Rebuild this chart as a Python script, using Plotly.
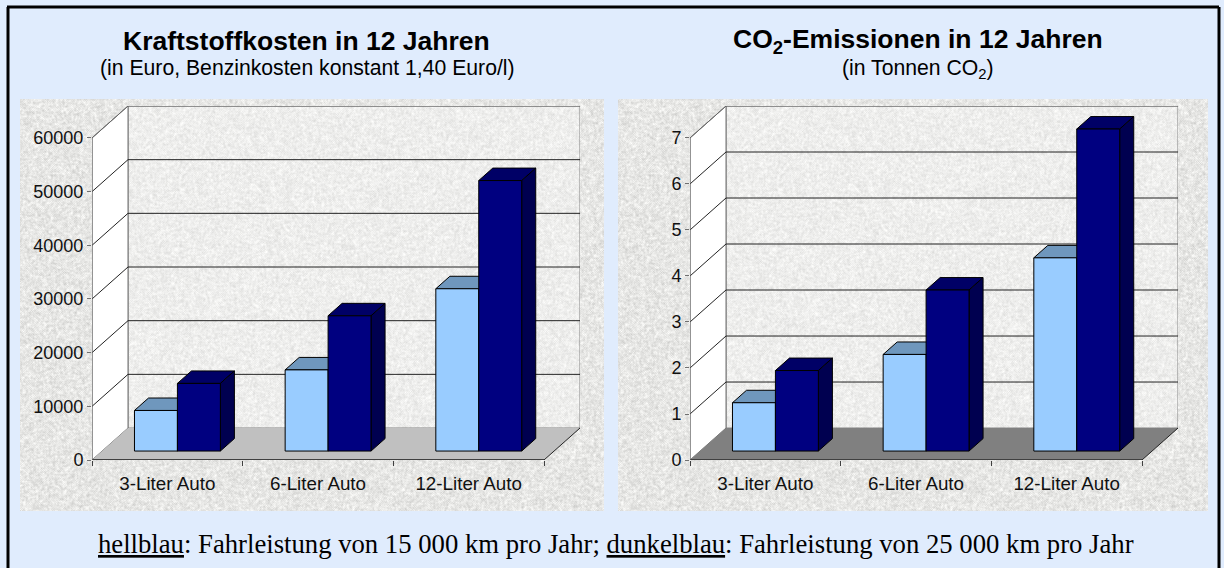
import base64, struct, zlib
import numpy as np
import plotly.graph_objects as go

categories = ["3-Liter Auto", "6-Liter Auto", "12-Liter Auto"]
cost_light = [7560, 15120, 30240]
cost_dark = [12600, 25200, 50400]
co2_light = [1.05, 2.1, 4.2]
co2_dark = [1.75, 3.5, 7.0]
cost_ticks = [0, 10000, 20000, 30000, 40000, 50000, 60000]
co2_ticks = [0, 1, 2, 3, 4, 5, 6, 7]

W, H = 1224, 568


def texture(w, h):
    yy, xx = np.mgrid[0:h, 0:w]
    n = np.sin(xx * 12.9898 + yy * 78.233) * 43758.5453
    n = n - np.floor(n)
    s = (n + np.roll(n, 1, 0) + np.roll(n, 1, 1) + np.roll(n, -1, 0) + np.roll(n, -1, 1)) / 5
    v = np.clip(231 + (s - 0.5) * 60, 0, 255)
    rgb = np.stack([v, v, v - 2], axis=-1).astype(np.uint8)
    raw = b"".join(b"\x00" + rgb[i].tobytes() for i in range(h))

    def chunk(t, d):
        return struct.pack(">I", len(d)) + t + d + struct.pack(">I", zlib.crc32(t + d) & 0xffffffff)

    png = b"\x89PNG\r\n\x1a\n" + chunk(b"IHDR", struct.pack(">IIBBBBB", w, h, 8, 2, 0, 0, 0)) \
        + chunk(b"IDAT", zlib.compress(raw, 9)) + chunk(b"IEND", b"")
    return "data:image/png;base64," + base64.b64encode(png).decode()


fig = go.Figure()

DX = 0.239            # depth in category units
DYF = 0.0993          # depth as a fraction of the axis top value
D0, D1 = 0.28, 0.67   # bar depth span
BW = 0.285            # bar width


def add_poly(xs, ys, axis, fill, line="rgba(0,0,0,0)", lw=1):
    fig.add_trace(go.Scatter(x=xs, y=ys, mode="lines", fill="toself", fillcolor=fill,
                             line=dict(color=line, width=lw), hoverinfo="skip", showlegend=False,
                             cliponaxis=False, xaxis="x" + axis, yaxis="y" + axis))


def add_line(xs, ys, axis, color, lw=1):
    fig.add_trace(go.Scatter(x=xs, y=ys, mode="lines", line=dict(color=color, width=lw),
                             hoverinfo="skip", showlegend=False, cliponaxis=False,
                             xaxis="x" + axis, yaxis="y" + axis))


def panel(axis, light, dark, ticks, floor, left_px):
    top = ticks[-1]
    dy = top * DYF
    n = len(light)
    x0, x1 = -0.5, n - 0.5
    xb0, xb1 = x0 + DX, x1 + DX
    add_poly([xb0, xb1, xb1, xb0, xb0], [dy, dy, top + dy, top + dy, dy], axis, "rgba(255,255,255,0.3)", "#808080")
    add_poly([x0, xb0, xb0, x0, x0], [0, dy, top + dy, top, 0], axis, "#ffffff", "#707070")
    add_poly([x0, x1, xb1, xb0, x0], [0, 0, dy, dy, 0], axis, floor)
    for t in ticks[1:]:
        c = "#666666" if t == top else "#222222"
        add_line([x0, xb0, xb1], [t, t + dy, t + dy], axis, c)
    add_line([x1, xb1], [0, dy], axis, "#222222")
    add_line([x0, x1], [0, 0], axis, "#404040", 2)
    add_line([x0, x0], [0, top], axis, "#707070")
    for i in range(n):
        for k, (v, front, topc, side) in enumerate([
            (light[i], "#99ccff", "#6f97bd", "#6f97bd"),
            (dark[i], "#000080", "#000066", "#000050"),
        ]):
            xl = i - BW + k * BW + D0 * DX
            xr = xl + BW
            off = (D1 - D0) * DX
            y0 = D0 * dy
            yt = v + y0
            oy = (D1 - D0) * dy
            add_poly([xl, xr, xr + off, xl + off, xl], [yt, yt, yt + oy, yt + oy, yt], axis, topc, "#000000")
            add_poly([xr, xr + off, xr + off, xr, xr], [y0, y0 + oy, yt + oy, yt, y0], axis, side, "#000000")
            add_poly([xl, xr, xr, xl, xl], [y0, y0, yt, yt, y0], axis, front, "#000000")
    px_cat = 150.67
    left = left_px
    right = left_px + (n + DX) * px_cat
    xa = dict(domain=[left / W, right / W], range=[x0, xb1], tickmode="array", automargin=False,
              tickvals=list(range(n)), ticktext=categories, ticks="", showgrid=False, zeroline=False,
              showline=False, ticklabelstandoff=10,
              minor=dict(tickmode="array", tickvals=[i - 0.5 for i in range(n + 1)], ticks="outside",
                         ticklen=5, tickcolor="#404040", tickwidth=1, showgrid=False),
              tickfont=dict(family="Liberation Sans", size=18.8, color="#111111"))
    ya = dict(domain=[1 - 460 / H, 1 - 106 / H], range=[0, top + dy], tickmode="array", tickvals=ticks,
              ticktext=[str(t) for t in ticks], ticks="outside", ticklen=4, tickcolor="#707070", automargin=False,
              showgrid=False, zeroline=False, showline=False, anchor="x" + axis,
              tickfont=dict(family="Liberation Sans", size=18, color="#111111"))
    xa["anchor"] = "y" + axis
    return xa, ya


xa1, ya1 = panel("", cost_light, cost_dark, cost_ticks, "#c0c0c0", 92)
xa2, ya2 = panel("2", co2_light, co2_dark, co2_ticks, "#808080", 690)


def txt(x, y, s, size, family="Liberation Sans"):
    return dict(x=x / W, y=1 - y / H, xref="paper", yref="paper", text=s, showarrow=False,
                xanchor="center", yanchor="middle",
                font=dict(family=family, size=size, color="#000000"))


annotations = [
    txt(306.5, 41, "<b>Kraftstoffkosten in 12 Jahren</b>", 26.5),
    txt(307, 68, "(in Euro, Benzinkosten konstant 1,40 Euro/l)", 21.2),
    txt(918, 41, "<b>CO<sub>2</sub>-Emissionen in 12 Jahren</b>", 26.5),
    txt(918, 69, "(in Tonnen CO<sub>2</sub>)", 21.2),
    txt(615.5, 544, "<u>hellblau</u>: Fahrleistung von 15 000 km pro Jahr; <u>dunkelblau</u>: "
                    "Fahrleistung von 25 000 km pro Jahr", 26.7, "Liberation Serif"),
]

images = [
    dict(source=texture(584, 412), xref="paper", yref="paper", x=20 / W, y=1 - 99 / H,
         sizex=584 / W, sizey=412 / H, sizing="stretch", layer="below", xanchor="left", yanchor="top"),
    dict(source=texture(590, 412), xref="paper", yref="paper", x=618 / W, y=1 - 99 / H,
         sizex=590 / W, sizey=412 / H, sizing="stretch", layer="below", xanchor="left", yanchor="top"),
]


def border(x0, y0, x1, y1):
    return dict(type="line", xref="paper", yref="paper", x0=x0 / W, x1=x1 / W, y0=1 - y0 / H, y1=1 - y1 / H,
                line=dict(color="#000000", width=3), layer="above")


shapes = [border(7, 7, 1219, 7), border(8, 7, 8, H), border(1219, 7, 1219, H)]

fig.update_layout(width=W, height=H, autosize=False, margin=dict(l=0, r=0, t=0, b=0, pad=0, autoexpand=False),
                  paper_bgcolor="#e0ecfd",
                  plot_bgcolor="rgba(0,0,0,0)", showlegend=False, xaxis=xa1, yaxis=ya1, xaxis2=xa2, yaxis2=ya2,
                  annotations=annotations, images=images, shapes=shapes)

fig.write_html("out.html", config=dict(displayModeBar=False, responsive=False),
               default_width="1224px", default_height="568px",
               post_script="document.body.style.margin='0';document.body.style.overflow='hidden';")
